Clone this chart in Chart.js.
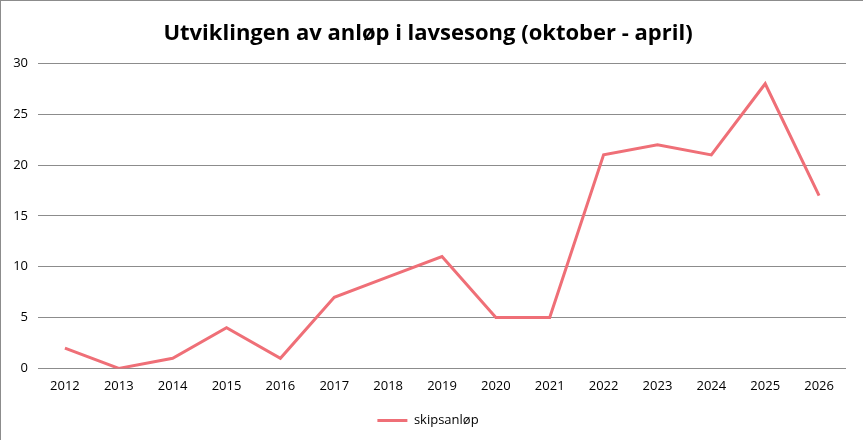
<!DOCTYPE html>
<html><head><meta charset="utf-8">
<script src="https://cdn.jsdelivr.net/npm/chart.js@4"></script>
<style>
html,body{margin:0;padding:0;background:#fff;}
#wrap{position:relative;width:863px;height:440px;box-sizing:border-box;border-left:1px solid #8c8c8c;border-top:1px solid #8c8c8c;}
canvas{position:absolute;left:-1px;top:-1px;}
</style></head>
<body><div id="wrap"><canvas id="c" width="863" height="440"></canvas></div>
<script>
const categories = ["2012","2013","2014","2015","2016","2017","2018","2019","2020","2021","2022","2023","2024","2025","2026"];
const skipsanlop = [2,0,1,4,1,7,9,11,5,5,21,22,21,28,17];
const seriesName = "skipsanløp";
const titleText = "Utviklingen av anløp i lavsesong (oktober - april)";
const lineColor = "#ef6f77";
const fontFam = "'Open Sans', 'Liberation Sans', sans-serif";

new Chart(document.getElementById('c'), {
  type: 'line',
  data: { labels: categories, datasets: [{ label: seriesName, data: skipsanlop, borderColor: lineColor, backgroundColor: lineColor, borderWidth: 3, pointRadius: 0, tension: 0 }] },
  options: {
    responsive: false, animation: false,
    layout: { padding: { left: 10, right: 17, top: 8, bottom: 3 } },
    plugins: {
      title: { display: true, text: titleText, color: '#000', font: { family: fontFam, size: 22, weight: 'bold' }, padding: { top: 13, bottom: 16 } },
      legend: { position: 'bottom', labels: { color: '#000', font: { family: fontFam, size: 13 }, boxWidth: 30, boxHeight: 3, padding: 10,
        generateLabels: (chart) => [{ text: seriesName, fillStyle: lineColor, strokeStyle: lineColor, lineWidth: 0, datasetIndex: 0 }] } },
      tooltip: { enabled: false }
    },
    scales: {
      x: { offset: true, grid: { display: false, drawTicks: false }, border: { display: false },
        ticks: { color: '#000', font: { family: fontFam, size: 13 }, padding: 10, maxRotation: 0 } },
      y: { min: 0, max: 30, ticks: { stepSize: 5, color: '#000', font: { family: fontFam, size: 13 }, padding: 10 },
        grid: { color: '#8c8c8c', drawTicks: false }, border: { display: false },
        afterFit: (s) => { s.width = 28; } }
    }
  }
});
</script></body></html>
